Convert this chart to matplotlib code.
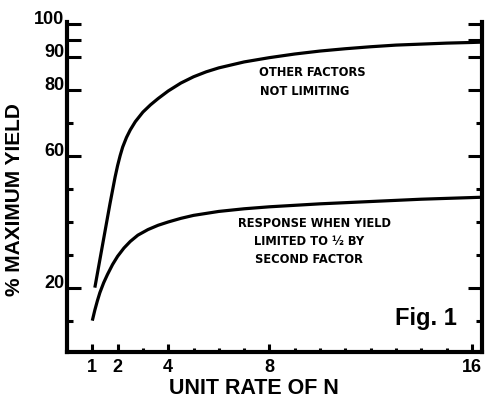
import matplotlib
matplotlib.use("Agg")
import matplotlib.pyplot as plt
from matplotlib.ticker import FixedLocator

# ---- data ----
upper_x = [1.1, 1.3, 1.5, 1.7, 1.9, 2.0, 2.1, 2.2, 2.35, 2.5, 2.7, 3.0, 3.3, 3.6,
           4.0, 4.5, 5.0, 5.5, 6.0, 7.0, 8.0, 9.0, 10.0, 11.0, 12.0, 13.0, 14.0,
           15.0, 16.0, 16.4]
upper_y = [20, 28.5, 37, 45.5, 53.5, 57.0, 60.0, 62.6, 65.5, 67.8, 70.3, 73.2,
           75.4, 77.3, 79.6, 82.0, 83.9, 85.4, 86.6, 88.4, 89.7, 90.8, 91.7,
           92.4, 93.0, 93.5, 93.8, 94.1, 94.3, 94.4]

lower_x = [1.0, 1.1, 1.2, 1.3, 1.45, 1.6, 1.8, 2.0, 2.25, 2.5, 2.8, 3.2, 3.6, 4.0,
           4.5, 5.0, 6.0, 7.0, 8.0, 10.0, 12.0, 14.0, 16.0, 16.4]
lower_y = [10, 13.2, 16.0, 18.5, 21.5, 24.0, 27.0, 29.5, 32.0, 34.0, 35.9, 37.6,
           38.9, 39.9, 41.0, 41.9, 43.1, 43.9, 44.5, 45.4, 46.1, 46.8, 47.3,
           47.4]

x_major = [1, 2, 4, 8, 16]
x_major_labels = ["1", "2", "4", "8", "16"]
x_minor = [3, 5, 6, 7, 9, 10, 11, 12, 13, 14, 15]
y_major = [20, 60, 80, 90, 95, 100]
y_major_labels = ["20", "60", "80", "90", "", "100"]
y_minor = [10, 30, 40, 50, 70]

upper_label = ["OTHER FACTORS", "NOT LIMITING"]
lower_label = ["RESPONSE WHEN YIELD", "LIMITED TO ½ BY", "SECOND FACTOR"]

FAM = ["Liberation Sans", "DejaVu Sans"]
plt.rcParams["font.family"] = FAM

fig = plt.figure(figsize=(4.86, 4.05), dpi=100)
ax = fig.add_axes([67/486, 1-352/405, (482-67)/486, (352-22)/405])

ax.plot(upper_x, upper_y, color="black", lw=2.3, solid_capstyle="butt",
        solid_joinstyle="round")
ax.plot(lower_x, lower_y, color="black", lw=2.3, solid_capstyle="butt",
        solid_joinstyle="round")

ax.set_xlim(0, 16.4)
ax.set_ylim(0.5, 100.5)

for s in ["left", "bottom", "right"]:
    ax.spines[s].set_linewidth(3)
ax.spines["top"].set_visible(False)

ax.xaxis.set_major_locator(FixedLocator(x_major))
ax.xaxis.set_minor_locator(FixedLocator(x_minor))
ax.set_xticklabels(x_major_labels)
ax.yaxis.set_major_locator(FixedLocator(y_major))
ax.yaxis.set_minor_locator(FixedLocator(y_minor))
ax.set_yticklabels(y_major_labels)

ax.tick_params(axis="both", which="both", direction="in", width=2.2, colors="black")
ax.tick_params(axis="y", which="major", length=10, pad=2, right=True)
ax.tick_params(axis="y", which="minor", length=4.5, right=True)
ax.tick_params(axis="x", which="major", length=6, pad=5)
ax.tick_params(axis="x", which="minor", length=3)

for lab in ax.get_yticklabels() + ax.get_xticklabels():
    lab.set_fontsize(13)
    lab.set_fontweight("bold")
for lab in ax.get_yticklabels():
    lab.set_verticalalignment("baseline")

tkw = dict(ha="center", va="center", fontsize=8.3, fontweight="bold",
           family=["DejaVu Sans"])
ax.text(9.68, 85.2, upper_label[0], **tkw)
ax.text(9.41, 79.4, upper_label[1], **tkw)
ax.text(9.8, 39.4, lower_label[0], **tkw)
ax.text(9.57, 33.9, lower_label[1], **tkw)
ax.text(9.57, 28.5, lower_label[2], **tkw)

ax.text(15.4, 8.8, "Fig. 1", ha="right", va="baseline", fontsize=17,
        fontweight="bold")

fig.text(15/486, 1-200/405, "% MAXIMUM YIELD", rotation=90, ha="center",
         va="center", fontsize=15, fontweight="bold")
fig.text(254/486, 1-389/405, "UNIT RATE OF N", ha="center", va="center",
         fontsize=15.5, fontweight="bold")

fig.savefig("out.png", dpi=100)
